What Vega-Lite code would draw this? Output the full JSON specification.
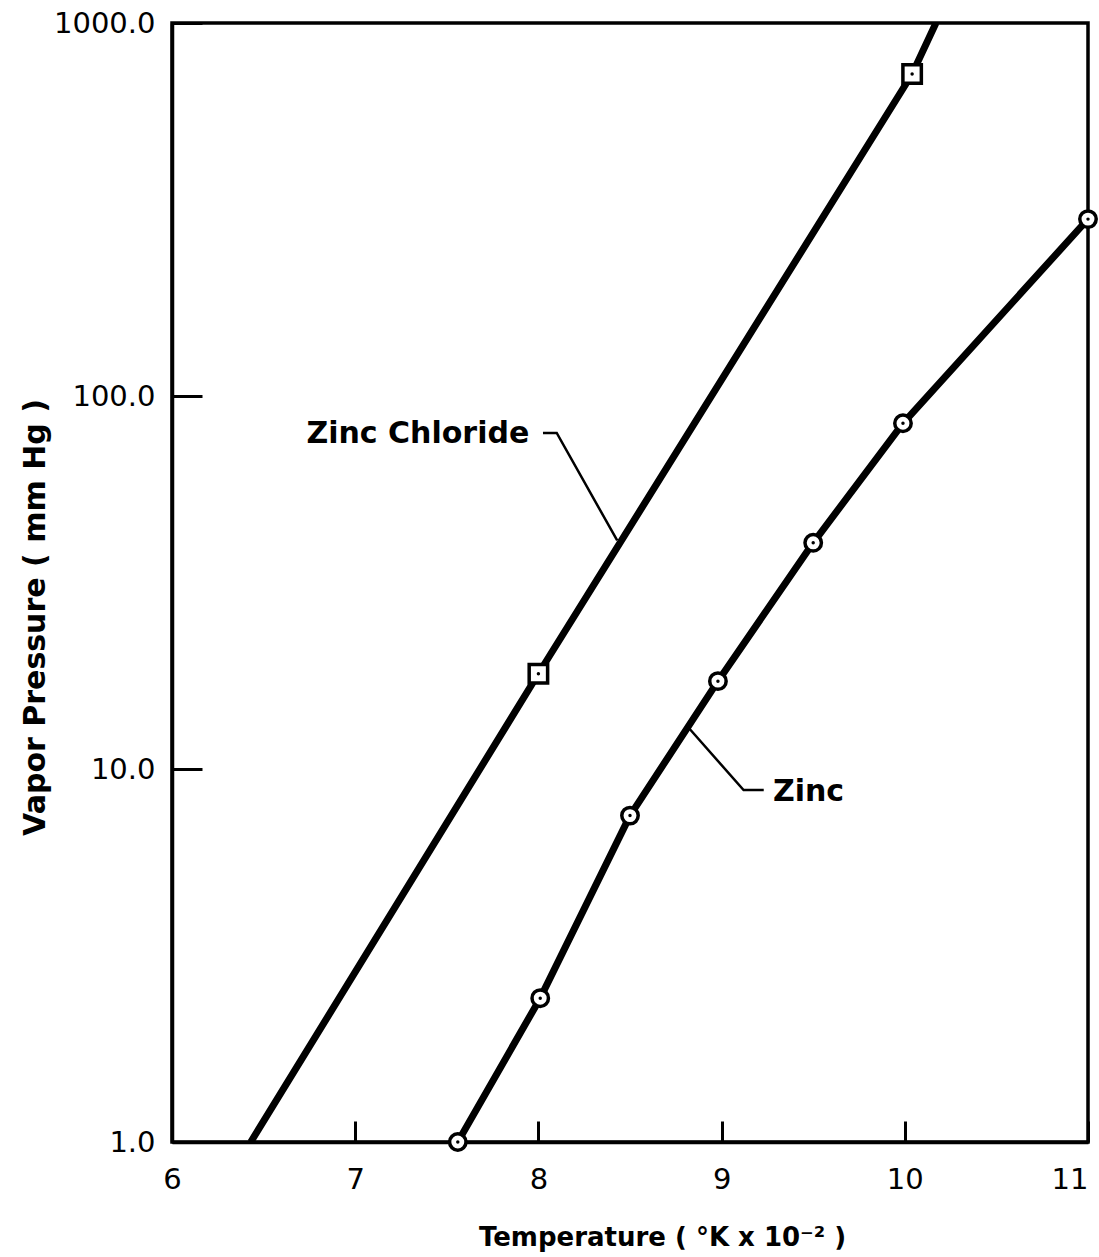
{
  "$schema": "https://vega.github.io/schema/vega-lite/v6.json",
  "width": 916,
  "height": 1119,
  "autosize": {"type": "none"},
  "padding": {"left": 172, "top": 23, "right": 11, "bottom": 115},
  "background": "white",
  "config": {
    "view": {"stroke": "black", "strokeWidth": 3.5},
    "font": "DejaVu Sans",
    "axis": {
      "grid": false,
      "domainColor": "black",
      "domainWidth": 3.5,
      "tickColor": "black",
      "tickWidth": 3,
      "labelColor": "black",
      "labelFont": "DejaVu Sans",
      "labelFontSize": 29,
      "labelFlush": false,
      "titleFont": "DejaVu Sans",
      "titleFontWeight": "bold",
      "titleColor": "black"
    }
  },
  "datasets": {
    "curves": [
      {"series": "Zinc Chloride", "T": 6.43, "P": 1.0, "marked": false},
      {"series": "Zinc Chloride", "T": 8.0, "P": 18.0, "marked": true},
      {"series": "Zinc Chloride", "T": 10.04, "P": 730, "marked": true},
      {"series": "Zinc Chloride", "T": 10.17, "P": 1000, "marked": false},
      {"series": "Zinc", "T": 7.56, "P": 1.0, "marked": true},
      {"series": "Zinc", "T": 8.01, "P": 2.43, "marked": true},
      {"series": "Zinc", "T": 8.5, "P": 7.5, "marked": true},
      {"series": "Zinc", "T": 8.98, "P": 17.2, "marked": true},
      {"series": "Zinc", "T": 9.5, "P": 40.4, "marked": true},
      {"series": "Zinc", "T": 9.99, "P": 84.5, "marked": true},
      {"series": "Zinc", "T": 11.0, "P": 298, "marked": true}
    ],
    "leaders": [
      {"leader": "Zinc Chloride", "order": 1, "T": 8.025, "P": 79.6},
      {"leader": "Zinc Chloride", "order": 2, "T": 8.1, "P": 79.6},
      {"leader": "Zinc Chloride", "order": 3, "T": 8.43, "P": 41.0},
      {"leader": "Zinc", "order": 1, "T": 8.82, "P": 12.9},
      {"leader": "Zinc", "order": 2, "T": 9.12, "P": 8.78},
      {"leader": "Zinc", "order": 3, "T": 9.23, "P": 8.78}
    ],
    "labels": [
      {"label": "Zinc Chloride", "T": 7.95, "P": 79.0, "side": "left"},
      {"label": "Zinc", "T": 9.28, "P": 8.7, "side": "right"}
    ]
  },
  "encoding": {
    "x": {
      "field": "T",
      "type": "quantitative",
      "scale": {"domain": [6, 11], "nice": false, "zero": false},
      "axis": {
        "values": [6, 7, 8, 9, 10, 11],
        "format": "d",
        "tickSize": -21,
        "labelPadding": 44,
        "labelAlign": {"condition": {"test": "datum.value == 11", "value": "right"}, "value": "center"},
        "title": "Temperature ( °K x 10⁻² )",
        "titleFontSize": 26,
        "titleX": 490,
        "titleY": 95,
        "titleAlign": "center",
        "titleBaseline": "middle"
      }
    },
    "y": {
      "field": "P",
      "type": "quantitative",
      "scale": {"type": "log", "domain": [1, 1000], "nice": false},
      "axis": {
        "values": [1, 10, 100, 1000],
        "format": ".1f",
        "tickSize": -30,
        "labelPadding": 47,
        "title": "Vapor Pressure ( mm Hg )",
        "titleFontSize": 30,
        "titleAngle": -90,
        "titleX": -137,
        "titleY": 594,
        "titleAlign": "center",
        "titleBaseline": "middle"
      }
    }
  },
  "layer": [
    {
      "data": {"name": "curves"},
      "mark": {"type": "line", "color": "black", "strokeWidth": 7, "clip": true, "strokeCap": "butt", "strokeJoin": "round"},
      "encoding": {"detail": {"field": "series", "type": "nominal"}}
    },
    {
      "data": {"name": "leaders"},
      "mark": {"type": "line", "color": "black", "strokeWidth": 2.5},
      "encoding": {
        "detail": {"field": "leader", "type": "nominal"},
        "order": {"field": "order", "type": "quantitative"}
      }
    },
    {
      "data": {"name": "curves"},
      "transform": [{"filter": "datum.marked && datum.series == 'Zinc'"}],
      "mark": {"type": "point", "shape": "circle", "filled": true, "fill": "white", "stroke": "black", "strokeWidth": 3.5, "size": 270, "opacity": 1, "clip": false}
    },
    {
      "data": {"name": "curves"},
      "transform": [{"filter": "datum.marked && datum.series == 'Zinc Chloride'"}],
      "mark": {"type": "point", "shape": "square", "filled": true, "fill": "white", "stroke": "black", "strokeWidth": 3.5, "size": 340, "opacity": 1}
    },
    {
      "data": {"name": "curves"},
      "transform": [{"filter": "datum.marked"}],
      "mark": {"type": "point", "shape": "circle", "filled": true, "color": "black", "size": 12, "opacity": 1, "clip": false}
    },
    {
      "data": {"name": "labels"},
      "transform": [{"filter": "datum.side == 'left'"}],
      "mark": {"type": "text", "align": "right", "baseline": "middle", "fontSize": 30, "fontWeight": "bold", "color": "black", "font": "DejaVu Sans"},
      "encoding": {"text": {"field": "label"}}
    },
    {
      "data": {"name": "labels"},
      "transform": [{"filter": "datum.side == 'right'"}],
      "mark": {"type": "text", "align": "left", "baseline": "middle", "fontSize": 30, "fontWeight": "bold", "color": "black", "font": "DejaVu Sans"},
      "encoding": {"text": {"field": "label"}}
    }
  ]
}
